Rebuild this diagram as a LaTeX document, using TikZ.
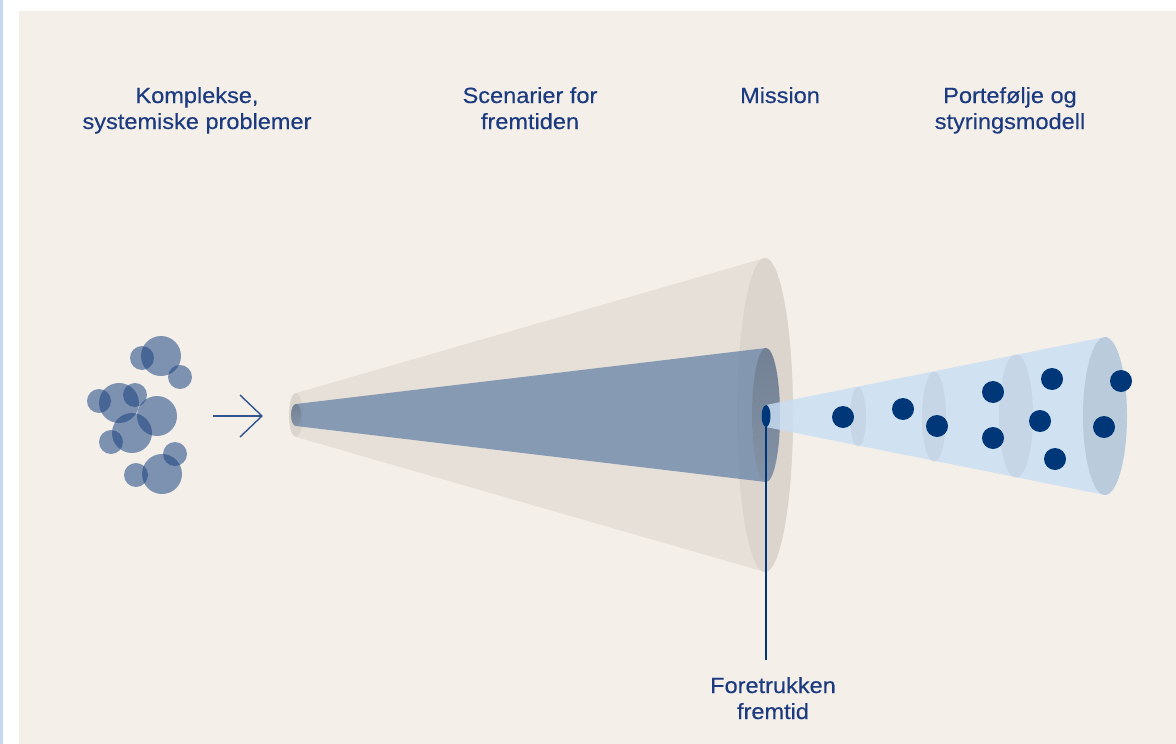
\documentclass[tikz,border=0pt]{standalone}
\usepackage{fontspec}
\setmainfont{Liberation Sans}[FakeStretch=1.07,FakeBold=0.4]
\usetikzlibrary{arrows.meta,calc}
\definecolor{bg}{HTML}{F4F0E9}
\definecolor{strip}{HTML}{C6D9F1}
\definecolor{bigc}{HTML}{E6E0D8}
\definecolor{bigend}{HTML}{DCD5CE}
\definecolor{bluec}{RGB}{95,125,165}
\definecolor{shade}{RGB}{60,80,110}
\definecolor{lightc}{RGB}{200,222,245}
\definecolor{lshade}{RGB}{110,125,140}
\definecolor{navy}{HTML}{003778}
\definecolor{bubc}{RGB}{28,68,130}
\definecolor{txt}{RGB}{28,58,128}
\definecolor{arrc}{RGB}{50,85,145}
\tikzset{
  lbl/.style={text=txt, font=\fontsize{22}{26}\selectfont, inner sep=0pt, anchor=base},
  bub/.style={fill=bubc, fill opacity=0.55},
  navydot/.style={fill=navy},
  lshadeA/.style={fill=lshade, fill opacity=0.10},
  lshadeB/.style={fill=lshade, fill opacity=0.22},
}
\begin{document}
\begin{tikzpicture}[x=1pt,y=-1pt]
\useasboundingbox (0,0) rectangle (1176,744);
% background
\fill[white] (0,0) rectangle (1176,744);
\fill[strip] (0,0) rectangle (3,744);
\fill[bg] (19,11) rectangle (1176,744);

% labels
\node[lbl] (k) at (197,103) {\begin{tabular}[t]{@{}c@{}}Komplekse,\\systemiske problemer\end{tabular}};
\node[lbl] (s) at (530,103) {\begin{tabular}[t]{@{}c@{}}Scenarier for\\fremtiden\end{tabular}};
\node[lbl] (m) at (780,103) {Mission};
\node[lbl] (p) at (1010,103) {\begin{tabular}[t]{@{}c@{}}Portefølje og\\styringsmodell\end{tabular}};
\node[lbl] (ft) at (773,693) {\begin{tabular}[t]{@{}c@{}}Foretrukken\\fremtid\end{tabular}};

% bubbles
\foreach \x/\y/\r in {161/356/20, 142/358/12, 180/377/12,
                      119/403/20, 99/401/12, 135/395/12, 157/416/20,
                      132/433/20, 111/442/12,
                      162/474/20, 136/475/12, 175/454/12}
  \fill[bub] (\x,\y) circle[radius=\r];

% arrow
\coordinate (a0) at (213,416);
\coordinate (a1) at (263,416);
\draw[arrc, line width=1.4pt, -{Straight Barb[length=22pt,width=42pt]}] (a0) -- (a1);

% big cone
\fill[bigc] (296,393) -- (765,258) arc[start angle=-90,end angle=90,x radius=28,y radius=157]
  -- (296,437) arc[start angle=90,end angle=270,x radius=7,y radius=22] -- cycle;
\fill[bigend] (765,415) ellipse[x radius=28,y radius=157];
\fill[bigend] (296,415) ellipse[x radius=7,y radius=22];

% blue cone
\fill[bluec, fill opacity=0.7] (296,404) -- (766,348) arc[start angle=-90,end angle=90,x radius=14,y radius=67]
  -- (296,426) arc[start angle=90,end angle=270,x radius=5,y radius=11] -- cycle;
\fill[shade, fill opacity=0.14] (766,415) ellipse[x radius=14,y radius=67];
\fill[shade, fill opacity=0.14] (296,415) ellipse[x radius=5,y radius=11];

% light cone
\fill[lightc, fill opacity=0.8] (766,405) -- (1105,337) arc[start angle=-90,end angle=90,x radius=22,y radius=79]
  -- (766,427) arc[start angle=90,end angle=270,x radius=4.5,y radius=11] -- cycle;
\fill[lshadeA] (858,417) ellipse[x radius=8,y radius=30];
\fill[lshadeA] (934,417) ellipse[x radius=12,y radius=45];
\fill[lshadeA] (1016,416) ellipse[x radius=17,y radius=62];
\fill[lshadeB] (1105,416) ellipse[x radius=22,y radius=79];

% mission dot and line
\coordinate (mc) at (766,416);
\fill[navydot] (mc) ellipse[x radius=4.5,y radius=11];
\draw[navy, line width=1.6pt, shorten >=15pt] (mc) -- (mc |- ft.north);

% portfolio dots
\foreach \x/\y in {843/417, 903/409, 937/426, 993/392, 993/438,
                   1052/379, 1040/421, 1055/459, 1121/381, 1104/427}
  \fill[navydot] (\x,\y) circle[radius=11];
\end{tikzpicture}
\end{document}
